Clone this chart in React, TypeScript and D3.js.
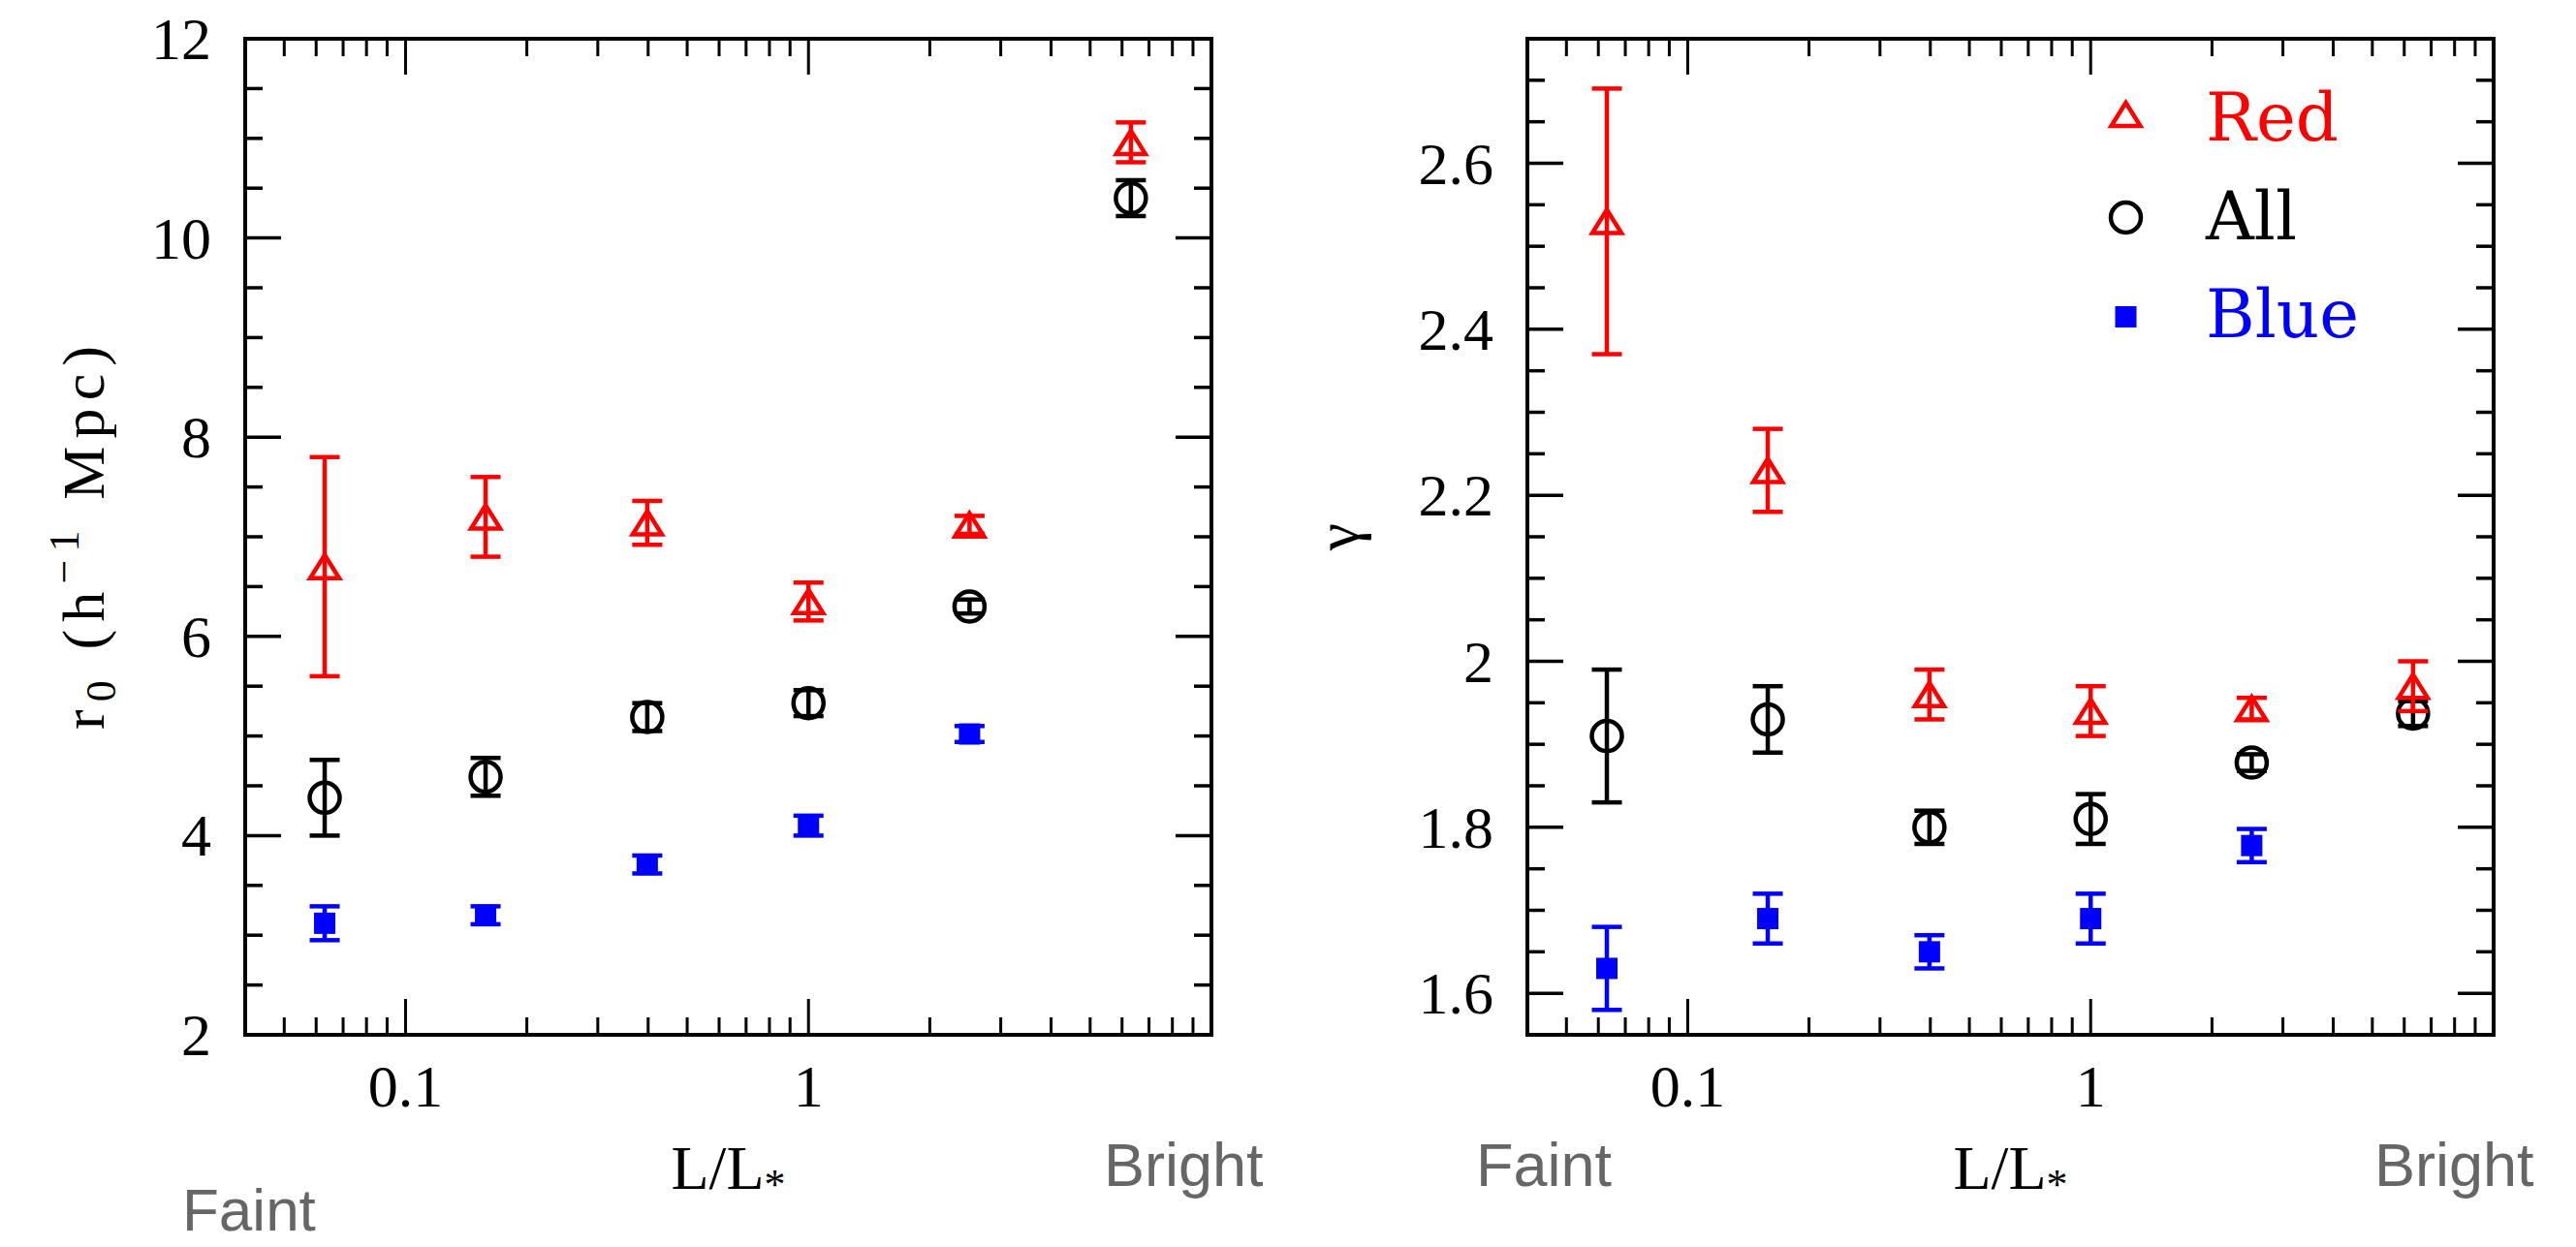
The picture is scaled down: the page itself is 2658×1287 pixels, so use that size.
import React from "react";
import * as d3 from "d3";

// ---------- data ----------
const lum = [0.063, 0.158, 0.398, 1.0, 2.51, 6.31];

const r0Red = [6.7, 7.2, 7.14, 6.35, 7.12, 10.96];
const r0RedErr = [1.1, 0.4, 0.22, 0.19, 0.09, 0.2];
const r0All = [4.38, 4.59, 5.19, 5.33, 6.3, 10.4];
const r0AllErr = [0.38, 0.19, 0.14, 0.13, 0.07, 0.18];
const r0Blue = [3.12, 3.2, 3.71, 4.1, 5.02];
const r0BlueErr = [0.17, 0.09, 0.09, 0.1, 0.08];

const gRed = [2.53, 2.23, 1.96, 1.94, 1.943, 1.97];
const gRedErr = [0.16, 0.05, 0.03, 0.03, 0.013, 0.03];
const gAll = [1.91, 1.93, 1.8, 1.81, 1.878, 1.937];
const gAllErr = [0.08, 0.04, 0.02, 0.03, 0.01, 0.015];
const gBlue = [1.63, 1.69, 1.65, 1.69, 1.778];
const gBlueErr = [0.05, 0.03, 0.02, 0.03, 0.02];

const xDomain = [0.04, 10];
const xMajor = [0.1, 1];
const xMajorLabels = ["0.1", "1"];
const xMinor = [0.05, 0.06, 0.07, 0.08, 0.09, 0.2, 0.3, 0.4, 0.5, 0.6, 0.7, 0.8, 0.9, 2, 3, 4, 5, 6, 7, 8, 9];

const r0Domain = [2, 12];
const r0Major = [2, 4, 6, 8, 10, 12];
const r0Minor = [2.5, 3, 3.5, 4.5, 5, 5.5, 6.5, 7, 7.5, 8.5, 9, 9.5, 10.5, 11, 11.5];

const gDomain = [1.55, 2.75];
const gMajor = [1.6, 1.8, 2, 2.2, 2.4, 2.6];
const gMajorLabels = ["1.6", "1.8", "2", "2.2", "2.4", "2.6"];
const gMinor = [1.55, 1.65, 1.7, 1.75, 1.85, 1.9, 1.95, 2.05, 2.1, 2.15, 2.25, 2.3, 2.35, 2.45, 2.5, 2.55, 2.65, 2.7, 2.75];

const legendLabels = ["Red", "All", "Blue"];
const legendColors = ["#ff0000", "#000000", "#0000ff"];
const legendMarkers = ["triangle", "circle", "square"];

// ---------- layout ----------
const W = 2658;
const H = 1287;
const TOP = 40;
const BOTTOM = 1068;
const SERIF = "'Liberation Serif', 'Times New Roman', serif";
const LEGEND_FONT = "'DejaVu Serif', serif";
const SANS = "'Liberation Sans', Arial, sans-serif";
const GRAY = "#666666";
const SW = 4.5;

function Marker({ kind, cx, cy, color }) {
  if (kind === "triangle") {
    const w = 30, h = 24;
    const p = `M${cx},${cy - h / 2} L${cx - w / 2},${cy + h / 2} L${cx + w / 2},${cy + h / 2} Z`;
    return <path d={p} fill="none" stroke={color} strokeWidth={SW} strokeLinejoin="miter" />;
  }
  if (kind === "circle") {
    return <circle cx={cx} cy={cy} r={15.5} fill="none" stroke={color} strokeWidth={SW} />;
  }
  return <rect x={cx - 11} y={cy - 11} width={22} height={22} fill={color} />;
}

function Series({ xs, vals, errs, color, kind, x, y }) {
  return (
    <g>
      {vals.map((v, i) => {
        const cx = x(xs[i]);
        const yt = y(v + errs[i]);
        const yb = y(v - errs[i]);
        return (
          <g key={i}>
            <line x1={cx} x2={cx} y1={yt} y2={yb} stroke={color} strokeWidth={SW} />
            <line x1={cx - 15.5} x2={cx + 15.5} y1={yt} y2={yt} stroke={color} strokeWidth={SW} />
            <line x1={cx - 15.5} x2={cx + 15.5} y1={yb} y2={yb} stroke={color} strokeWidth={SW} />
            <Marker kind={kind} cx={cx} cy={y(v)} color={color} />
          </g>
        );
      })}
    </g>
  );
}

function Frame({ x, y, yMajor, yMinor, yLabels }) {
  const [xl, xr] = x.range();
  const [yb, yt] = y.range();
  const MAJ = 37, MIN = 18;
  return (
    <g>
      {xMajor.map((t, i) => (
        <g key={"xM" + i}>
          <line x1={x(t)} x2={x(t)} y1={yb} y2={yb - MAJ} stroke="#000" strokeWidth={3} />
          <line x1={x(t)} x2={x(t)} y1={yt} y2={yt + MAJ} stroke="#000" strokeWidth={3} />
          <text x={x(t)} y={1142} textAnchor="middle" fontFamily={SERIF} fontSize={62}>{xMajorLabels[i]}</text>
        </g>
      ))}
      {xMinor.map((t, i) => (
        <g key={"xm" + i}>
          <line x1={x(t)} x2={x(t)} y1={yb} y2={yb - MIN} stroke="#000" strokeWidth={3} />
          <line x1={x(t)} x2={x(t)} y1={yt} y2={yt + MIN} stroke="#000" strokeWidth={3} />
        </g>
      ))}
      {yMajor.map((t, i) => (
        <g key={"yM" + i}>
          <line x1={xl} x2={xl + MAJ} y1={y(t)} y2={y(t)} stroke="#000" strokeWidth={3.5} />
          <line x1={xr} x2={xr - MAJ} y1={y(t)} y2={y(t)} stroke="#000" strokeWidth={3.5} />
          <text x={xl - 35} y={y(t) + 21} textAnchor="end" fontFamily={SERIF} fontSize={62}>{yLabels[i]}</text>
        </g>
      ))}
      {yMinor.map((t, i) => (
        <g key={"ym" + i}>
          <line x1={xl} x2={xl + MIN} y1={y(t)} y2={y(t)} stroke="#000" strokeWidth={3.5} />
          <line x1={xr} x2={xr - MIN} y1={y(t)} y2={y(t)} stroke="#000" strokeWidth={3.5} />
        </g>
      ))}
      <rect x={xl} y={yt} width={xr - xl} height={yb - yt} fill="none" stroke="#000" strokeWidth={4} />
    </g>
  );
}

function XTitle({ cx }) {
  return (
    <text x={cx} y={1227} textAnchor="middle" fontFamily={SERIF} fontSize={64}>
      L/L<tspan fontSize={44} dy={10}>*</tspan>
    </text>
  );
}

export default function App() {
  const xL = d3.scaleLog().domain(xDomain).range([253, 1250]);
  const yL = d3.scaleLinear().domain(r0Domain).range([BOTTOM, TOP]);
  const xR = d3.scaleLog().domain(xDomain).range([1576, 2573]);
  const yR = d3.scaleLinear().domain(gDomain).range([BOTTOM, TOP]);

  const legendY = [118, 224.5, 327];
  const legendBase = [145, 247, 348];

  return (
    <svg width={W} height={H} style={{ position: "absolute", left: 0, top: 0, background: "#fff" }}>
      <rect x={0} y={0} width={W} height={H} fill="#fff" />
      {/* Left panel */}
      <Frame x={xL} y={yL} yMajor={r0Major} yMinor={r0Minor} yLabels={r0Major.map(String)} />
      <Series xs={lum} vals={r0Blue} errs={r0BlueErr} color="#0000ff" kind="square" x={xL} y={yL} />
      <Series xs={lum} vals={r0All} errs={r0AllErr} color="#000000" kind="circle" x={xL} y={yL} />
      <Series xs={lum} vals={r0Red} errs={r0RedErr} color="#ff0000" kind="triangle" x={xL} y={yL} />
      <text transform="translate(107,555) rotate(-90)" textAnchor="middle" fontFamily={SERIF} fontSize={62} textLength={396} lengthAdjust="spacing">
        r<tspan fontSize={44} dy={12}>0</tspan>
        <tspan dy={-12}> (h</tspan>
        <tspan fontSize={44} dy={-26}>−1</tspan>
        <tspan dy={26}> Mpc)</tspan>
      </text>
      <XTitle cx={751.5} />
      <text x={188} y={1270} fontFamily={SANS} fontSize={62} fill={GRAY}>Faint</text>
      <text x={1139} y={1224} fontFamily={SANS} fontSize={63} fill={GRAY}>Bright</text>

      {/* Right panel */}
      <Frame x={xR} y={yR} yMajor={gMajor} yMinor={gMinor} yLabels={gMajorLabels} />
      <Series xs={lum} vals={gBlue} errs={gBlueErr} color="#0000ff" kind="square" x={xR} y={yR} />
      <Series xs={lum} vals={gAll} errs={gAllErr} color="#000000" kind="circle" x={xR} y={yR} />
      <Series xs={lum} vals={gRed} errs={gRedErr} color="#ff0000" kind="triangle" x={xR} y={yR} />
      <text transform="translate(1401,554) rotate(-90)" textAnchor="middle" fontFamily={SERIF} fontSize={64}>γ</text>
      <XTitle cx={2074.5} />
      <text x={1523} y={1224} fontFamily={SANS} fontSize={63} fill={GRAY}>Faint</text>
      <text x={2450} y={1224} fontFamily={SANS} fontSize={63} fill={GRAY}>Bright</text>

      {/* Legend */}
      {legendLabels.map((lab, i) => (
        <g key={lab}>
          <Marker kind={legendMarkers[i]} cx={2193.5} cy={legendY[i]} color={legendColors[i]} />
          <text x={2276} y={legendBase[i]} fontFamily={LEGEND_FONT} fontSize={69} fill={legendColors[i]}>{lab}</text>
        </g>
      ))}
    </svg>
  );
}
